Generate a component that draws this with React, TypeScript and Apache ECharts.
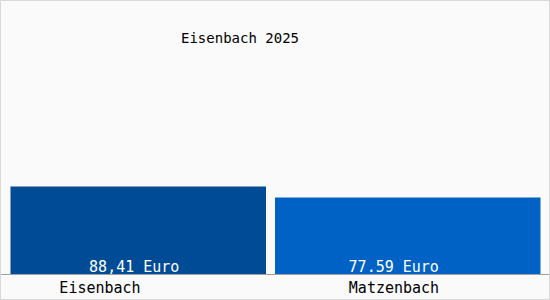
import React, { useEffect, useRef } from "react";
import * as echarts from "echarts";

const categories = ["Eisenbach", "Matzenbach"];
const values = [88.41, 77.59];
const valueLabels = ["88,41 Euro", "77.59 Euro"];
const barColors = ["#004b96", "#0062c4"];
const title = "Eisenbach 2025";

const FONT = "'DejaVu Sans Mono', monospace";

export default function App() {
  const ref = useRef<HTMLDivElement>(null);
  useEffect(() => {
    if (!ref.current) return;
    const chart = echarts.init(ref.current, null, { renderer: "svg" });
    const catOffsets = [86, 28];
    const valOffsets = [-4, -14];
    const widths = [256, 266];
    const series = values.map((v, i) => ({
      type: "bar",
      barWidth: widths[i],
      barGap: "-100%",
      data: values.map((vv, j) =>
        j === i
          ? {
              value: vv,
              itemStyle: { color: barColors[i] },
              label: {
                show: true,
                position: "insideBottom",
                distance: 1,
                offset: [valOffsets[i], 0],
                formatter: () => valueLabels[i],
                color: "#ffffff",
                fontFamily: FONT,
                fontSize: 15,
              },
            }
          : null
      ),
    }));
    chart.setOption({
      animation: false,
      backgroundColor: "#fafafa",
      grid: { left: 10.5, right: 9.5, top: 175, bottom: 25 },
      xAxis: {
        type: "category",
        data: categories,
        axisLine: { show: false },
        axisTick: { show: false },
        axisLabel: {
          margin: 5,
          formatter: (val: string) => (val === categories[0] ? `{a|${val}}` : `{b|${val}}`),
          rich: {
            a: { fontFamily: FONT, fontSize: 15, color: "#000", padding: [0, catOffsets[0], 0, 0] },
            b: { fontFamily: FONT, fontSize: 15, color: "#000", padding: [0, catOffsets[1], 0, 0] },
          },
        },
      },
      yAxis: {
        type: "value",
        min: 0,
        max: 100,
        show: false,
        splitLine: { show: false },
      },
      series,
      graphic: [
        {
          type: "rect",
          shape: { x: 0.5, y: 0.5, width: 549, height: 299 },
          style: { fill: "none", stroke: "#d8d8d8", lineWidth: 1 },
          silent: true,
        },
        {
          type: "line",
          shape: { x1: 1, y1: 274.5, x2: 549, y2: 274.5 },
          style: { stroke: "#a0a0a0", lineWidth: 1 },
          z: 10,
          silent: true,
        },
        {
          type: "text",
          x: 240,
          y: 38,
          style: {
            text: title,
            fontFamily: FONT,
            fontSize: 14,
            fill: "#000",
            textAlign: "center",
            textVerticalAlign: "middle",
          },
        },
      ],
    });
    return () => chart.dispose();
  }, []);
  return (
    <div
      ref={ref}
      style={{ position: "fixed", left: 0, top: 0, width: 550, height: 300 }}
    />
  );
}
